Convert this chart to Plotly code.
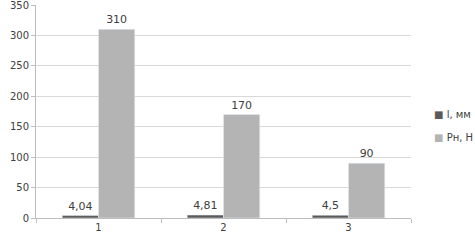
import plotly.graph_objects as go

categories = ["1", "2", "3"]
l_mm = [4.04, 4.81, 4.5]
l_labels = ["4,04", "4,81", "4,5"]
p_n = [310, 170, 90]
p_labels = ["310", "170", "90"]
y_ticks = [0, 50, 100, 150, 200, 250, 300, 350]
series_names = ["l, мм", "Pн, H"]
series_colors = ["#5a5a5a", "#b4b4b4"]

fig = go.Figure()
fig.add_trace(go.Bar(x=categories, y=l_mm, name=series_names[0], marker_color=series_colors[0],
                     text=l_labels, textposition="outside", cliponaxis=False,
                     textfont=dict(color="#404040", size=11)))
fig.add_trace(go.Bar(x=categories, y=p_n, name=series_names[1], marker_color=series_colors[1],
                     text=p_labels, textposition="outside", cliponaxis=False,
                     textfont=dict(color="#404040", size=11)))

# legend drawn as text annotations (small square markers like the reference)
legend_y = [0.484, 0.380]
for name, color, yy in zip(series_names, series_colors, legend_y):
    fig.add_annotation(xref="paper", yref="paper", x=1.056, y=yy, xanchor="left",
                       yanchor="middle", showarrow=False,
                       text=f"<span style='color:{color}'>■</span> {name}",
                       font=dict(size=10, color="#404040", family="DejaVu Sans"))

fig.update_layout(
    width=475, height=243,
    margin=dict(l=36, r=64, t=5, b=25, autoexpand=False),
    paper_bgcolor="white", plot_bgcolor="white",
    barmode="group", bargap=0.42, bargroupgap=0,
    font=dict(family="DejaVu Sans", size=10, color="#404040"),
    showlegend=False,
)
fig.update_xaxes(type="category", showline=True, linecolor="#bdbdbd", linewidth=1,
                 ticks="outside", tickson="boundaries", ticklen=4, tickcolor="#bdbdbd",
                 showgrid=False, tickfont=dict(size=10, color="#404040"))
fig.update_yaxes(range=[0, 350.01], tickvals=y_ticks, showgrid=True, gridcolor="#d9d9d9",
                 showline=True, linecolor="#bdbdbd", ticks="outside", ticklen=4,
                 tickcolor="#bdbdbd", zeroline=False, ticklabeloverflow="allow",
                 tickfont=dict(size=10, color="#404040"))

fig.write_html("out.html", config={"displayModeBar": False},
               post_script="document.body.style.margin='0px';")
